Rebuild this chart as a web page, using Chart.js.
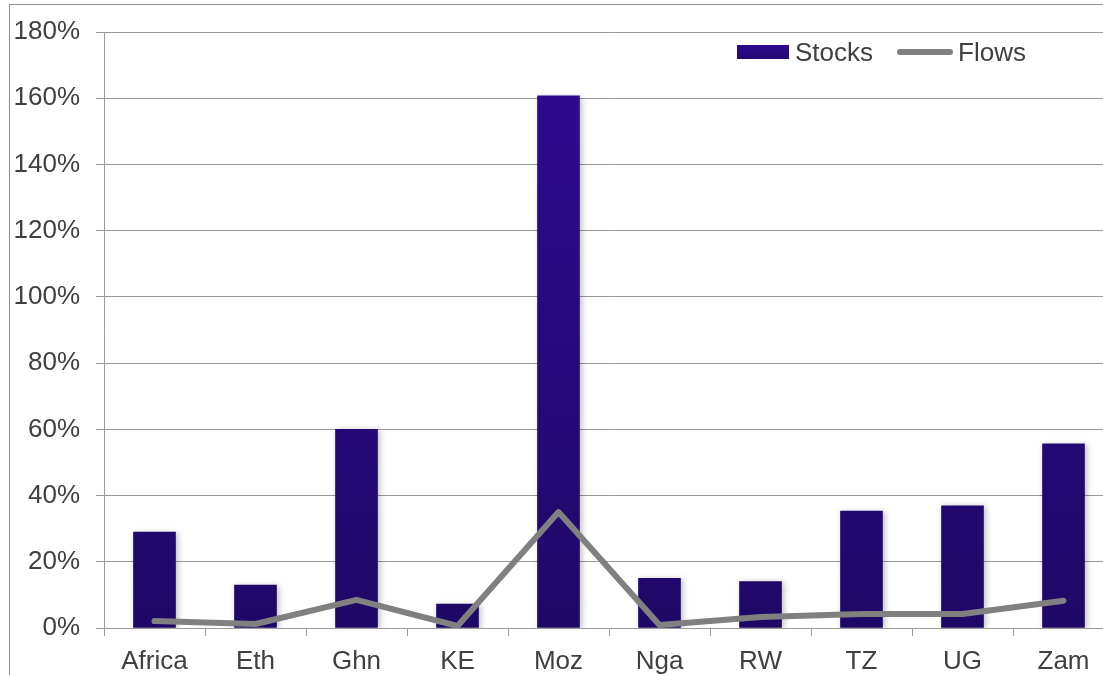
<!DOCTYPE html>
<html>
<head>
<meta charset="utf-8">
<script src="https://cdn.jsdelivr.net/npm/chart.js"></script>
<style>
  body { margin: 0; background: #fff; overflow: hidden; }
  #wrap { position: relative; width: 1103px; height: 675px; overflow: hidden; }
  #frame { position: absolute; left: 9px; top: 4px; width: 1200px; height: 800px; border: 1px solid #8f8f8f; }
  #box { position: absolute; left: 0; top: 0; width: 1114px; height: 675px; }
  #legend { position: absolute; left: 737px; top: 35px; font: 26px "Liberation Sans", Arial, sans-serif; color: #404040; white-space: nowrap; }
  #legend span { display: inline-block; vertical-align: middle; }
  .swatch { width: 52px; height: 14px; background: linear-gradient(#2e0a90, #220873); margin-right: 6px; }
  .ln { width: 56px; height: 6px; border-radius: 3px; background: #808080; margin-left: 24px; margin-right: 5px; }
</style>
</head>
<body>
<div id="wrap">
  <div id="frame"></div>
  <div id="box"><canvas id="chart"></canvas></div>
  <div id="legend"><span class="swatch"></span><span>Stocks</span><span class="ln"></span><span>Flows</span></div>
</div>
<script>
// categories and values (percent)
const countries = ['Africa', 'Eth', 'Ghn', 'KE', 'Moz', 'Nga', 'RW', 'TZ', 'UG', 'Zam'];
const stocks = [29, 13, 60, 7.2, 160.7, 15, 14, 35.3, 36.9, 55.6];
const flows = [2.1, 1.2, 8.5, 0.6, 35, 0.9, 3.3, 4.2, 4.2, 8.2];

const textColor = '#404040';
const gridColor = '#9a9a9a';

// soft shadow behind the bars
const barShadow = {
    id: 'barShadow',
    beforeDatasetDraw(chart, args) {
        if (args.index !== 0) return;
        const ctx = chart.ctx;
        ctx.save();
        ctx.shadowColor = 'rgba(0,0,0,0.25)';
        ctx.shadowBlur = 6;
        ctx.shadowOffsetX = 2;
        ctx.shadowOffsetY = 1;
    },
    afterDatasetDraw(chart, args) {
        if (args.index !== 0) return;
        chart.ctx.restore();
    }
};

function barGradient(context) {
    const area = context.chart.chartArea;
    if (!area) return '#27097f';
    const g = context.chart.ctx.createLinearGradient(0, area.top + 60, 0, area.bottom);
    g.addColorStop(0, '#2e0a90');
    g.addColorStop(1, '#1e0866');
    return g;
}

const ctx = document.getElementById('chart').getContext('2d');
const chart = new Chart(ctx, {
    type: 'bar',
    data: {
        labels: countries,
        datasets: [{
            label: 'Stocks',
            data: stocks,
            backgroundColor: barGradient,
            barThickness: 42,
            order: 2
        }, {
            type: 'line',
            label: 'Flows',
            data: flows,
            borderColor: '#808080',
            borderWidth: 6,
            pointRadius: 0,
            borderJoinStyle: 'round',
            borderCapStyle: 'round',
            tension: 0,
            order: 1
        }]
    },
    options: {
        responsive: true,
        maintainAspectRatio: false,
        animation: false,
        layout: { padding: { top: 32, right: 0, bottom: 0, left: 0 } },
        plugins: {
            legend: { display: false },
            tooltip: { enabled: false }
        },
        scales: {
            x: {
                offset: true,
                afterFit(scale) { scale.height = 47; },
                grid: { drawOnChartArea: false, drawTicks: true, tickLength: 8, color: gridColor, offset: true },
                border: { color: gridColor, width: 1 },
                ticks: { color: textColor, padding: 10, font: { family: '"Liberation Sans", Arial', size: 26 } }
            },
            y: {
                min: 0,
                max: 180,
                afterFit(scale) { scale.width = 104; },
                grid: { color: gridColor, tickLength: 8 },
                border: { color: gridColor, width: 1 },
                ticks: {
                    stepSize: 20,
                    padding: 16,
                    color: textColor,
                    font: { family: '"Liberation Sans", Arial', size: 26 },
                    callback: v => v + '%'
                }
            }
        }
    },
    plugins: [barShadow]
});
</script>
</body>
</html>
